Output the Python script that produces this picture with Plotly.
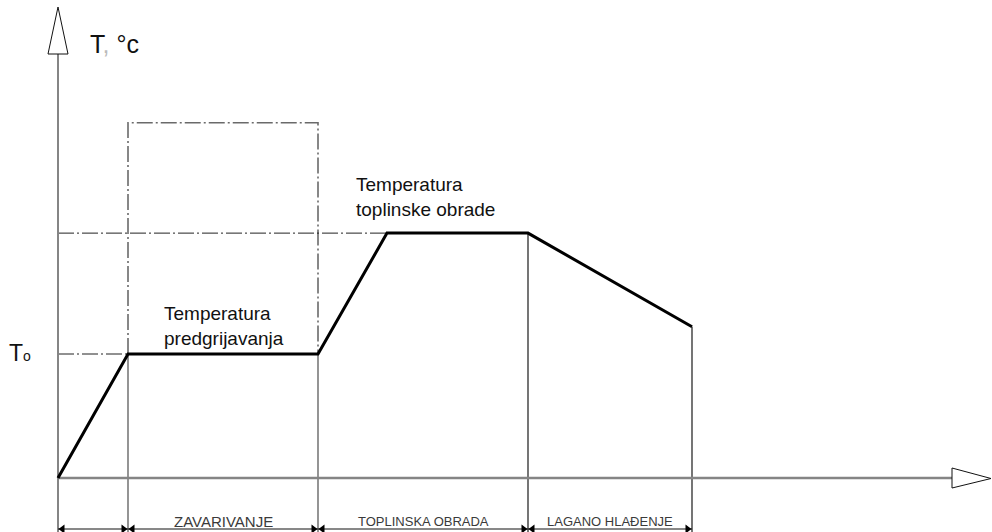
import plotly.graph_objects as go

# ---------------- data ----------------
# stage boundaries along the time axis (arbitrary time units)
stage_times = [0, 7, 26, 47, 63.4]
stage_labels = ["", "ZAVARIVANJE", "TOPLINSKA OBRADA", "LAGANO HLAĐENJE"]
stage_label_sizes = [13, 15, 13, 13]

# temperature profile (time, temperature in arbitrary units)
profile_time = [0, 7, 26, 32.9, 47, 63.4]
profile_temp = [0, 200, 200, 395, 395, 244]

T0 = 200            # preheat temperature
T_treat = 395       # heat-treatment temperature
weld_box_top = 573  # top of dashed welding box

label_preheat = "Temperatura<br>predgrijavanja"
label_treat = "Temperatura<br>toplinske obrade"
axis_label = "T<span style='color:#bbbbbb'>,</span> °c"
t0_label = "T<span style='font-size:14px'>o</span>"

# ---------------- scales ----------------
W, H = 992, 532
X_RANGE = [-5.8, 93.4]          # 10 px per time unit
Y_RANGE = [-87.1, 771.0]        # 0.62 px per temperature unit


def tx(px):  # pixel x -> data x
    return X_RANGE[0] + px * (X_RANGE[1] - X_RANGE[0]) / W


def ty(py):  # pixel y -> data y
    return Y_RANGE[1] - py * (Y_RANGE[1] - Y_RANGE[0]) / H


y_bot = ty(533)
dashdot = "16px,3px,2px,3px"

fig = go.Figure()

# lower parts of stage boundaries (welding stage)
fig.add_trace(go.Scatter(
    x=[stage_times[1], stage_times[1], None, stage_times[2], stage_times[2]],
    y=[y_bot, T0, None, y_bot, T0],
    mode="lines", line=dict(color="#7a7a7a", width=1.6), hoverinfo="skip"))

# dashed welding box
fig.add_trace(go.Scatter(
    x=[stage_times[1], stage_times[1], stage_times[2], stage_times[2]],
    y=[T0, weld_box_top, weld_box_top, T0],
    mode="lines", line=dict(color="#6a6a6a", width=1.6, dash=dashdot), hoverinfo="skip"))

# horizontal reference lines
fig.add_trace(go.Scatter(
    x=[stage_times[0], stage_times[1], None, stage_times[0], profile_time[3]],
    y=[T0, T0, None, T_treat, T_treat],
    mode="lines", line=dict(color="#222222", width=1, dash=dashdot), hoverinfo="skip"))

# boundaries of heat treatment / cooling
fig.add_trace(go.Scatter(
    x=[stage_times[3], stage_times[3], None, stage_times[4], stage_times[4]],
    y=[y_bot, T_treat, None, y_bot, profile_temp[-1]],
    mode="lines", line=dict(color="#1a1a1a", width=1.2), hoverinfo="skip"))

# y axis line
fig.add_trace(go.Scatter(
    x=[0, 0], y=[y_bot, ty(54)],
    mode="lines", line=dict(color="#858585", width=2), hoverinfo="skip"))

# x axis line
fig.add_trace(go.Scatter(
    x=[0, tx(952)], y=[0, 0],
    mode="lines", line=dict(color="#858585", width=2.5), hoverinfo="skip"))

# temperature profile
fig.add_trace(go.Scatter(
    x=profile_time, y=profile_temp,
    mode="lines", line=dict(color="#000000", width=3), hoverinfo="skip"))

# dimension line with arrows
y_dim = ty(529)
fig.add_trace(go.Scatter(
    x=[stage_times[0], stage_times[-1]], y=[y_dim, y_dim],
    mode="lines", line=dict(color="#111111", width=1), hoverinfo="skip"))
off = 0.45
ax_l, ax_r = [], []
for a, b in zip(stage_times[:-1], stage_times[1:]):
    ax_l.append(a + off)
    ax_r.append(b - off)
fig.add_trace(go.Scatter(
    x=ax_l, y=[y_dim] * len(ax_l), mode="markers",
    marker=dict(symbol="triangle-left", size=8, color="#000000"), hoverinfo="skip"))
fig.add_trace(go.Scatter(
    x=ax_r, y=[y_dim] * len(ax_r), mode="markers",
    marker=dict(symbol="triangle-right", size=8, color="#000000"), hoverinfo="skip"))

# stage labels
for a, b, lab, sz in zip(stage_times[:-1], stage_times[1:], stage_labels, stage_label_sizes):
    if lab:
        fig.add_annotation(x=(a + b) / 2, y=ty(521), text=lab, showarrow=False,
                           font=dict(family="Liberation Sans", size=sz, color="#3a3a3a"),
                           xanchor="center", yanchor="middle")

# text labels
fig.add_annotation(x=tx(162), y=ty(325.5), text=label_preheat, showarrow=False,
                   align="left", xanchor="left", yanchor="middle",
                   font=dict(family="Liberation Sans", size=19, color="#111111"))
fig.add_annotation(x=tx(354), y=ty(196.5), text=label_treat, showarrow=False,
                   align="left", xanchor="left", yanchor="middle",
                   font=dict(family="Liberation Sans", size=19, color="#111111"))
fig.add_annotation(x=tx(88), y=ty(44), text=axis_label, showarrow=False,
                   xanchor="left", yanchor="middle",
                   font=dict(family="Liberation Sans", size=25, color="#111111"))
fig.add_annotation(x=tx(7), y=ty(353), text=t0_label, showarrow=False,
                   xanchor="left", yanchor="middle",
                   font=dict(family="Liberation Sans", size=23, color="#111111"))

# axis arrow heads (outlined)
hw = 10 * (X_RANGE[1] - X_RANGE[0]) / W
fig.add_shape(type="path", xref="x", yref="y",
              path=f"M 0,{ty(7)} L {-hw},{ty(54)} L {hw},{ty(54)} Z",
              line=dict(color="#111111", width=1), fillcolor="white")
fig.add_shape(type="path", xref="x", yref="y",
              path=f"M {tx(991)},{ty(478.5)} L {tx(952)},{ty(468)} L {tx(952)},{ty(488)} Z",
              line=dict(color="#111111", width=1), fillcolor="white")

fig.update_layout(
    width=W, height=H,
    margin=dict(l=0, r=0, t=0, b=0),
    paper_bgcolor="white", plot_bgcolor="white",
    showlegend=False,
    xaxis=dict(range=X_RANGE, visible=False, fixedrange=True),
    yaxis=dict(range=Y_RANGE, visible=False, fixedrange=True),
)

fig.write_html(
    "out.html",
    config={"displayModeBar": False},
    post_script="document.body.style.margin='0px';document.body.style.overflow='hidden';",
)
